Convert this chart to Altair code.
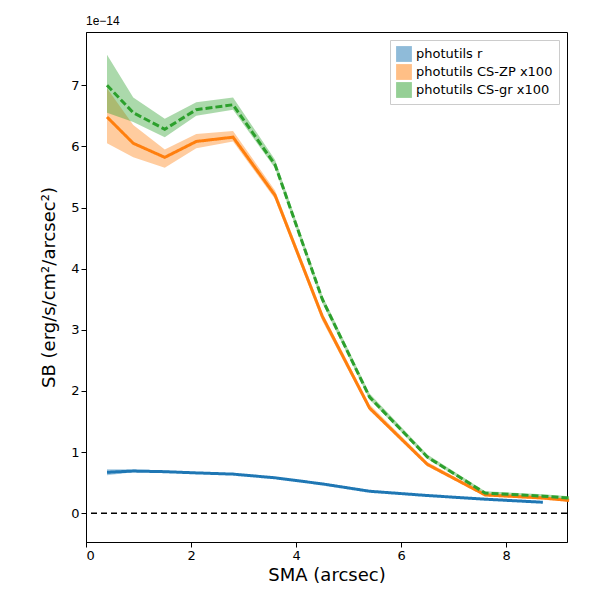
import altair as alt
import pandas as pd

# values in units of 1e-14
x = [0.4, 0.9, 1.5, 2.1, 2.8, 3.6, 4.5, 5.4, 6.5, 7.6, 8.7, 9.2]
r_mid = [0.67, 0.69, 0.68, 0.66, 0.64, 0.58, 0.48, 0.36, 0.29, 0.23, 0.18, None]
r_lo = [0.62, 0.67, 0.67, 0.65, 0.63, 0.57, 0.47, 0.35, 0.28, 0.22, 0.17, None]
r_hi = [0.72, 0.72, 0.70, 0.67, 0.65, 0.59, 0.49, 0.37, 0.30, 0.24, 0.19, None]
zp_mid = [6.48, 6.05, 5.82, 6.08, 6.15, 5.20, 3.22, 1.72, 0.80, 0.30, 0.25, 0.21]
zp_lo = [6.05, 5.82, 5.65, 5.97, 6.08, 5.14, 3.15, 1.68, 0.77, 0.28, 0.22, 0.19]
zp_hi = [6.95, 6.35, 5.95, 6.20, 6.25, 5.28, 3.28, 1.78, 0.84, 0.33, 0.28, 0.24]
gr_mid = [7.00, 6.55, 6.28, 6.60, 6.68, 5.70, 3.50, 1.90, 0.92, 0.33, 0.28, 0.25]
gr_lo = [6.55, 6.40, 6.15, 6.50, 6.60, 5.64, 3.44, 1.86, 0.89, 0.31, 0.26, 0.23]
gr_hi = [7.50, 6.80, 6.45, 6.72, 6.80, 5.78, 3.56, 1.96, 0.96, 0.36, 0.31, 0.28]

names = ["photutils r", "photutils CS-ZP x100", "photutils CS-gr x100"]
colors = ["#1f77b4", "#ff7f0e", "#2ca02c"]

rows = []
for name, mid, lo, hi in zip(names, [r_mid, zp_mid, gr_mid], [r_lo, zp_lo, gr_lo], [r_hi, zp_hi, gr_hi]):
    for xi, m, l, h in zip(x, mid, lo, hi):
        if m is not None:
            rows.append({"sma": xi, "sb": m, "lo": l, "hi": h, "series": name})
df = pd.DataFrame(rows)

xs = alt.Scale(domain=[0, 9.16], nice=False, zero=False)
ys = alt.Scale(domain=[-0.47, 7.87], nice=False, zero=False)
cs = alt.Scale(domain=names, range=colors)

base = alt.Chart(df)
band = base.mark_area(opacity=0.4).encode(
    x=alt.X("sma:Q", scale=xs, title="SMA (arcsec)",
            axis=alt.Axis(values=[0, 2, 4, 6, 8], format="d", grid=False)),
    y=alt.Y("lo:Q", scale=ys, title="SB (erg/s/cm²/arcsec²)",
            axis=alt.Axis(values=[0, 1, 2, 3, 4, 5, 6, 7], format="d", grid=False, titlePadding=12)),
    y2="hi:Q",
    color=alt.Color("series:N", scale=cs, sort=names, title=None,
                    legend=alt.Legend(orient="top-right", symbolType="square", offset=8,
                                      symbolSize=250, symbolOpacity=0.5, symbolStrokeWidth=0,
                                      labelFontSize=13,
                                      strokeColor="#cccccc", padding=6, fillColor="white")),
)
lines = base.mark_line(strokeWidth=3).encode(
    x="sma:Q", y="sb:Q",
    color=alt.Color("series:N", scale=cs, legend=None),
    strokeDash=alt.StrokeDash("series:N", scale=alt.Scale(domain=names, range=[[1, 0], [1, 0], [7, 3]]), legend=None),
)
zero = alt.Chart(pd.DataFrame({"y": [0]})).mark_rule(color="black", strokeDash=[6, 4], strokeWidth=1.5).encode(
    y=alt.Y("y:Q", scale=ys))
exp = alt.Chart(pd.DataFrame({"t": ["1e−14"]})).mark_text(align="left", baseline="bottom", fontSize=12, dy=-4).encode(
    x=alt.value(0), y=alt.value(0), text="t:N")

chart = (band + lines + zero + exp).properties(
    width=481, height=510, padding={"left": 32, "top": 7, "right": 5, "bottom": 5}
).configure_axis(
    titleFontSize=18, titleFontWeight="normal", labelFontSize=13, labelColor="black",
    titleColor="black", domainColor="black", tickColor="black", labelFont="DejaVu Sans", titleFont="DejaVu Sans"
).configure_legend(labelFont="DejaVu Sans").configure_view(stroke="black")

chart.save("out.html", embed_options={"renderer": "svg", "actions": False})
